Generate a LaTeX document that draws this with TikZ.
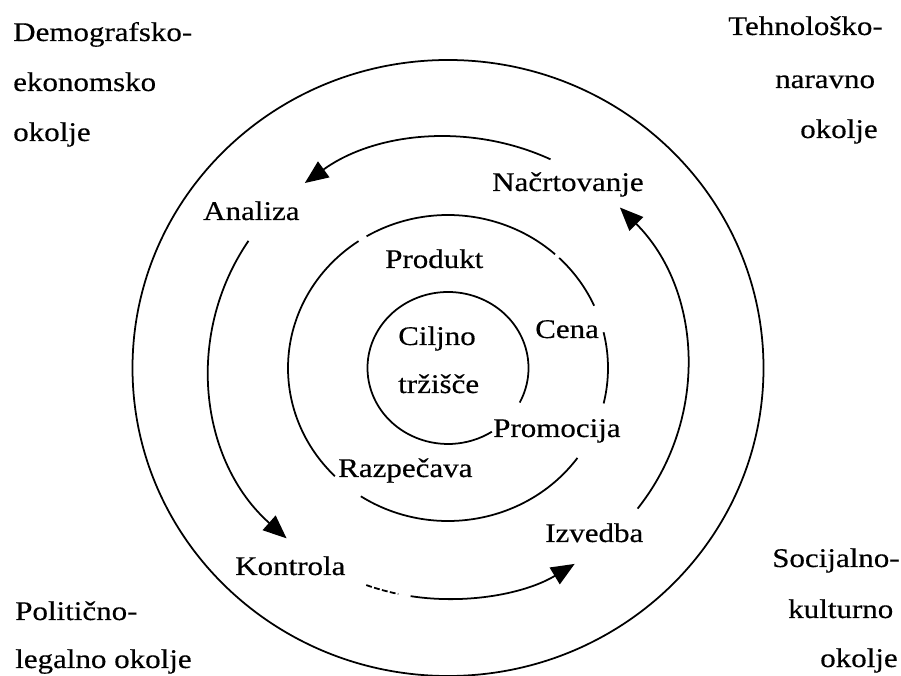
\documentclass[tikz,border=0pt]{standalone}
\usepackage{fontspec}
\setmainfont{Liberation Serif}[FakeStretch=1.15,FakeBold=0.4]
\usetikzlibrary{arrows.meta}
\tikzset{
  lbl/.style={inner sep=0pt, anchor=base west, font=\fontsize{23}{27}\selectfont},
  ring/.style={line width=1.5pt},
  flow/.style={line width=1.5pt, -{Triangle[length=0.7cm,width=0.58cm]}}
}
\begin{document}
\begin{tikzpicture}[x=0.03cm,y=0.03cm]
      \useasboundingbox (0,0) rectangle (901,675);
      \coordinate (ctr) at (448,307);
      \draw[ring] (ctr) ellipse [x radius=315.5, y radius=308]; % outer
      \draw[ring] (ctr) ++(-27:80.5 and 76) arc[start angle=-27, end angle=303, x radius=80.5, y radius=76]; % core
      % marketing mix ring
      \draw[ring] (ctr) ++(237:160 and 153) arc[start angle=237, end angle=324, x radius=160, y radius=153];
      \draw[ring] (ctr) ++(-13.4:160 and 153) arc[start angle=-13.4, end angle=13.5, x radius=160, y radius=153];
      \draw[ring] (ctr) ++(24:160 and 153) arc[start angle=24, end angle=46, x radius=160, y radius=153];
      \draw[ring] (ctr) ++(48:160 and 153) arc[start angle=48, end angle=120.6, x radius=160, y radius=153];
      \draw[ring] (ctr) ++(124:160 and 153) arc[start angle=124, end angle=225, x radius=160, y radius=153];
      % cycle arrows
      \draw[flow] (ctr) ++(64.6:239 and 231) arc[start angle=64.6, end angle=126.8, x radius=239, y radius=231];
      \draw[flow] (ctr) ++(146.6:239 and 231) arc[start angle=146.6, end angle=227.5, x radius=239, y radius=231];
      \draw[ring, dash pattern=on 5pt off 2pt] (ctr) ++(250:239 and 231) arc[start angle=250, end angle=258, x radius=239, y radius=231];
      \draw[flow] (ctr) ++(261:239 and 231) arc[start angle=261, end angle=302, x radius=239, y radius=231];
      \draw[flow] (ctr) ++(-37.5:239 and 231) arc[start angle=-37.5, end angle=44, x radius=239, y radius=231];
      \node[lbl] (ciljno) at (398,330) {Ciljno}; % center
      \node[lbl] (trzisce) at (398,282) {tržišče};
      \node[lbl] (produkt) at (385,407) {Produkt}; % mix
      \node[lbl] (cena) at (535,337) {Cena};
      \node[lbl] (promocija) at (493,238) {Promocija};
      \node[lbl] (razpecava) at (338,198) {Razpečava};
      \node[lbl] (analiza) at (203,455) {Analiza}; % cycle
      \node[lbl] (nacrt) at (492,484) {Načrtovanje};
      \node[lbl] (izvedba) at (545,133) {Izvedba};
      \node[lbl] (kontrola) at (235,100) {Kontrola};
      \node[lbl] (demo1) at (13,634) {Demografsko-}; % top left
      \node[lbl] (demo2) at (13,584) {ekonomsko};
      \node[lbl] (demo3) at (13,534) {okolje};
      \node[lbl] (tech1) at (728,640) {Tehnološko-}; % top right
      \node[lbl] (tech2) at (775,587) {naravno};
      \node[lbl] (tech3) at (800,537) {okolje};
      \node[lbl] (pol1) at (15,55) {Politično-}; % bottom left
      \node[lbl] (pol2) at (15,7) {legalno okolje};
      \node[lbl] (soc1) at (772,108) {Socijalno-}; % bottom right
      \node[lbl] (soc2) at (788,57) {kulturno};
      \node[lbl] (soc3) at (820,8) {okolje};
    \end{tikzpicture}
\end{document}
